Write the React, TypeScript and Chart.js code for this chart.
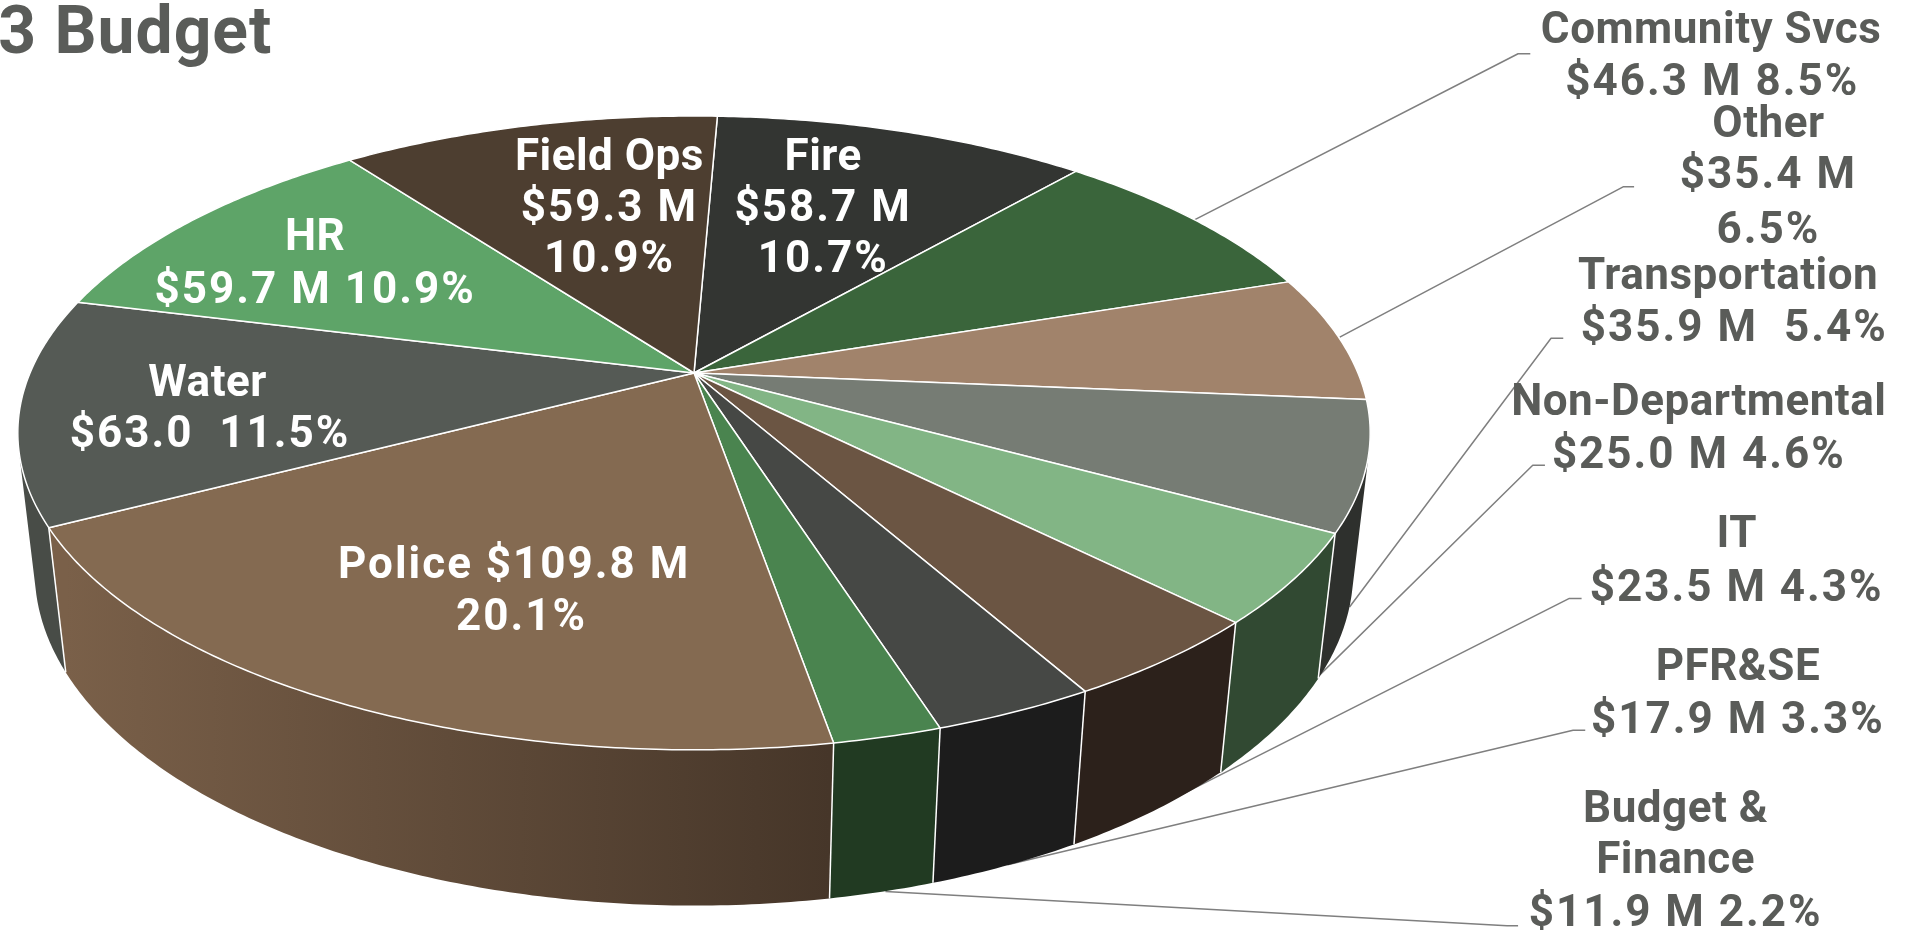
import React, { useEffect, useRef } from "react";
import { Chart, registerables } from "chart.js";

Chart.register(...registerables);

const categories = ["Fire", "Community Svcs", "Other", "Transportation", "Non-Departmental", "IT", "PFR&SE", "Budget & Finance", "Police", "Water", "HR", "Field Ops"];
const amounts = [58.7, 46.3, 35.4, 35.9, 25.0, 23.5, 17.9, 11.9, 109.8, 63.0, 59.7, 59.3];
const topColors = ["#333532", "#3A653B", "#A1836B", "#767C74", "#82B585", "#6B5543", "#464845", "#4A844F", "#846A51", "#555A55", "#5EA468", "#4D3E30"];
const wallFrom = ["#2E302D", "#2E4A2F", "#6E5948", "#2E302D", "#314932", "#2C211B", "#1C1C1C", "#213A22", "#7A6049", "#484C47", "#3F6E46", "#352A20"];
const wallTo = ["#2E302D", "#2E4A2F", "#6E5948", "#2E302D", "#314932", "#2C211B", "#1C1C1C", "#213A22", "#463629", "#484C47", "#3F6E46", "#352A20"];

const titleText = "3 Budget";
const S = 1915 / 1568;
type Lbl = [string, number, number];
const insideLabels: Lbl[] = [
  ["Field Ops", 499, 126], ["$59.3 M", 499, 168], ["10.9%", 499, 210],
  ["Fire", 674, 126], ["$58.7 M", 674, 168], ["10.7%", 674, 210],
  ["HR", 258, 192], ["$59.7 M 10.9%", 258, 235],
  ["Water", 170, 311], ["$63.0  11.5%", 172, 353],
  ["Police $109.8 M", 421, 460], ["20.1%", 427, 503],
];
const outsideLabels: Lbl[] = [
  ["Community Svcs", 1401, 22], ["$46.3 M 8.5%", 1402, 65],
  ["Other", 1448, 99], ["$35.4 M", 1448, 141], ["6.5%", 1448, 186],
  ["Transportation", 1415, 224], ["$35.9 M  5.4%", 1420, 266],
  ["Non-Departmental", 1391, 327], ["$25.0 M 4.6%", 1391, 370],
  ["IT", 1422, 435], ["$23.5 M 4.3%", 1422, 479],
  ["PFR&SE", 1423, 544], ["$17.9 M 3.3%", 1423, 587],
  ["Budget &", 1372, 660], ["Finance", 1372, 702], ["$11.9 M 2.2%", 1372, 745],
];
const leaders: number[][][] = [
  [[978, 180], [1243, 44], [1253, 44]],
  [[1097, 276], [1329, 153], [1338, 153]],
  [[1105, 497], [1270, 277], [1280, 277]],
  [[1000, 632], [1255, 381], [1265, 381]],
  [[935, 667], [1285, 490], [1295, 490]],
  [[825, 708], [1288, 598], [1298, 598]],
  [[725, 730], [1234, 758], [1243, 758]],
];

const CX = 694, CY = 373, A = 664, B = 305.6, P = 0.189, E = 0.0247, VY = 6020;
const FONT = '"Roboto", sans-serif';

function top(t: number): [number, number] {
  const u = Math.cos(t), v = Math.sin(t), w = 1 - P * v;
  return [CX + (A * u) / w, CY + (B * v) / w];
}
function bottom(t: number): [number, number] {
  const v = Math.sin(t), w = 1 - P * v, f = E / (w + E);
  const [x, y] = top(t);
  return [x + f * (CX - x), y + f * (VY - y)];
}
function samples(a: number, b: number) {
  const n = Math.max(2, Math.ceil((b - a) / 0.01));
  return Array.from({ length: n + 1 }, (_, i) => a + ((b - a) * i) / n);
}
// angle at which the line through the vanishing point just touches the right rim
function rimAngle() {
  let best = 0, bestRatio = -1;
  for (let t = -1.5; t < 1.5; t += 0.001) {
    const [x, y] = top(t);
    const r = (x - CX) / (VY - y);
    if (r > bestRatio) { bestRatio = r; best = t; }
  }
  return best;
}
function drawLabel(ctx: CanvasRenderingContext2D, [s, x, y]: Lbl) {
  (ctx as any).letterSpacing = /[$%]/.test(s) ? "2px" : "0.5px";
  ctx.fillText(s, x * S, (y + 4) * S);
}

const pie3d = {
  id: "pie3d",
  beforeDatasetDraw(chart: any) {
    const ctx: CanvasRenderingContext2D = chart.ctx;
    const arcs = chart.getDatasetMeta(0).data.map((arc: any, i: number) => ({ arc, i }));
    ctx.save();
    ctx.lineJoin = "round";
    ctx.strokeStyle = "#7F7F7F";
    ctx.lineWidth = 1.5;
    leaders.forEach((pts) => {
      ctx.beginPath();
      pts.forEach(([x, y], k) => (k ? ctx.lineTo(x * S, y * S) : ctx.moveTo(x * S, y * S)));
      ctx.stroke();
    });
    const tR = rimAngle();
    const tL = Math.PI - tR;
    arcs.forEach(({ arc, i }: any) => {
      const s = Math.max(arc.startAngle, tR);
      const e = Math.min(arc.endAngle, tL);
      if (e <= s) return;
      const ts = samples(s, e);
      const g = ctx.createLinearGradient(bottom(e)[0], 0, bottom(s)[0], 0);
      g.addColorStop(0, wallFrom[i]);
      g.addColorStop(1, wallTo[i]);
      ctx.beginPath();
      ts.forEach((t, k) => { const [x, y] = top(t); k ? ctx.lineTo(x, y) : ctx.moveTo(x, y); });
      [...ts].reverse().forEach((t) => { const [x, y] = bottom(t); ctx.lineTo(x, y); });
      ctx.closePath();
      ctx.fillStyle = g;
      ctx.fill();
    });
    ctx.strokeStyle = "#FFFFFF";
    ctx.lineWidth = 1.5;
    arcs.forEach(({ arc }: any) => {
      if (Math.sin(arc.startAngle) < 0.2) return;
      const a = top(arc.startAngle), d = bottom(arc.startAngle);
      ctx.beginPath();
      ctx.moveTo(a[0], a[1]);
      ctx.lineTo(d[0], d[1]);
      ctx.stroke();
    });
    arcs.forEach(({ arc }: any) => {
      ctx.beginPath();
      ctx.moveTo(CX, CY);
      samples(arc.startAngle, arc.endAngle).forEach((t) => { const [x, y] = top(t); ctx.lineTo(x, y); });
      ctx.closePath();
      ctx.fillStyle = arc.options.backgroundColor;
      ctx.fill();
      ctx.strokeStyle = arc.options.borderColor;
      ctx.lineWidth = arc.options.borderWidth;
      ctx.stroke();
    });
    ctx.restore();
    return false;
  },
  afterDatasetsDraw(chart: any) {
    const ctx: CanvasRenderingContext2D = chart.ctx;
    ctx.save();
    ctx.textAlign = "center";
    ctx.textBaseline = "middle";
    ctx.font = `bold 44px ${FONT}`;
    ctx.fillStyle = "#FFFFFF";
    insideLabels.forEach((l) => drawLabel(ctx, l));
    ctx.fillStyle = "#5A5C59";
    outsideLabels.forEach((l) => drawLabel(ctx, l));
    ctx.textAlign = "right";
    ctx.font = `bold 66px ${FONT}`;
    (ctx as any).letterSpacing = "1px";
    ctx.fillText(titleText, 223 * S, 30 * S);
    ctx.restore();
  },
};

export default function App() {
  const ref = useRef<HTMLCanvasElement>(null);
  useEffect(() => {
    const chart = new Chart(ref.current!, {
      type: "pie",
      data: {
        labels: categories,
        datasets: [{ data: amounts, backgroundColor: topColors, borderColor: "#FFFFFF", borderWidth: 1.5 }],
      },
      options: {
        responsive: false,
        animation: false,
        rotation: 2.4,
        plugins: { legend: { display: false }, tooltip: { enabled: false } },
      },
      plugins: [pie3d],
    } as any);
    return () => chart.destroy();
  }, []);
  return <canvas ref={ref} width={1915} height={931} style={{ position: "absolute", left: 0, top: 0, background: "#fff" }} />;
}
